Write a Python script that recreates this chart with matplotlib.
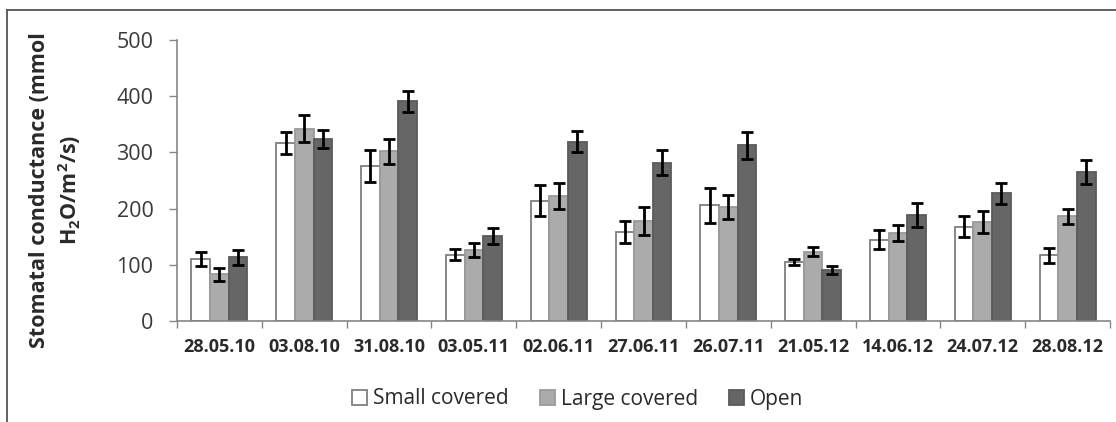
import matplotlib.pyplot as plt
import numpy as np
from matplotlib.lines import Line2D
from matplotlib import font_manager

# sampling dates
dates = ['28.05.10', '03.08.10', '31.08.10', '03.05.11', '02.06.11', '27.06.11',
         '26.07.11', '21.05.12', '14.06.12', '24.07.12', '28.08.12']

# mean stomatal conductance per treatment
small_covered = [110, 317, 276, 118, 214, 158, 206, 105, 145, 168, 117]
large_covered = [83, 342, 302, 126, 222, 178, 203, 123, 156, 176, 186]
open_plot = [113, 323, 391, 151, 319, 282, 313, 91, 189, 227, 265]

# error bar half-widths
small_err = [12, 20, 29, 10, 28, 20, 31, 5, 17, 18, 13]
large_err = [12, 24, 22, 12, 23, 25, 22, 8, 14, 20, 14]
open_err = [13, 16, 19, 14, 19, 23, 24, 7, 21, 18, 22]

series_names = ['Small covered', 'Large covered', 'Open']

# pick a family that really ships a bold face
bold_family = 'DejaVu Sans'
for fam in ['Open Sans', 'Lato', 'Noto Sans', 'Roboto', 'Liberation Sans']:
    path = font_manager.findfont(font_manager.FontProperties(family=fam, weight='bold'),
                                 fallback_to_default=False)
    if 'bold' in path.lower():
        bold_family = fam
        break

plt.rcParams['font.family'] = ['Open Sans', 'DejaVu Sans']
plt.rcParams['mathtext.fontset'] = 'custom'
plt.rcParams['mathtext.rm'] = bold_family + ':bold'
plt.rcParams['mathtext.it'] = bold_family + ':bold'
plt.rcParams['mathtext.bf'] = bold_family + ':bold'

fig = plt.figure(figsize=(11.16, 4.22), dpi=100)
ax = fig.add_axes([177 / 1116, 1 - 321 / 422, (1110 - 177) / 1116, (321 - 40) / 422])

x = np.arange(len(dates))
width = 0.22
axis_grey = '#868686'

styles = [
    (small_covered, small_err, 'white', '#7f7f7f'),
    (large_covered, large_err, '#ababab', '#9a9a9a'),
    (open_plot, open_err, '#666666', '#5a5a5a'),
]
for i, (vals, errs, face, edge) in enumerate(styles):
    pos = x + (i - 1) * width
    ax.bar(pos, vals, width, color=face, edgecolor=edge, linewidth=1.3,
           label=series_names[i], zorder=2)
    ax.errorbar(pos, vals, yerr=errs, fmt='none', ecolor='black',
                elinewidth=2, capsize=4.5, capthick=2, zorder=3)

ax.set_xlim(-0.5, len(dates) - 0.5)
ax.set_ylim(0, 500)
ax.set_yticks(range(0, 501, 100))
ax.tick_params(axis='y', direction='out', length=6, color=axis_grey, width=1,
               labelsize=15.5, labelcolor='#3a3a3a', pad=11)

# category labels centred, ticks on the boundaries
ax.set_xticks(x)
ax.set_xticklabels(dates, fontsize=13, fontweight='bold', color='#2a2a2a',
                   family=bold_family)
ax.tick_params(axis='x', which='major', length=0, pad=12)
ax.set_xticks(np.arange(-0.5, len(dates), 1.0), minor=True)
ax.tick_params(axis='x', which='minor', direction='out', length=5, color=axis_grey, width=1)

for side in ['top', 'right']:
    ax.spines[side].set_visible(False)
for side in ['left', 'bottom']:
    ax.spines[side].set_color(axis_grey)
    ax.spines[side].set_linewidth(1.2)

fig.text(56 / 1116, 1 - 190 / 422, 'Stomatal conductance (mmol\nH$_2$O/m$^2$/s)',
         rotation=90, ha='center', va='center', multialignment='center',
         fontsize=15.5, fontweight='bold', color='#2a2a2a', linespacing=1.25,
         family=bold_family)

leg = ax.legend(loc='center', bbox_to_anchor=(578 / 1116, 1 - 399 / 422),
                bbox_transform=fig.transFigure, ncol=3, frameon=False,
                fontsize=15, handlelength=0.7, handleheight=0.7,
                handletextpad=0.3, columnspacing=1.5)
for t in leg.get_texts():
    t.set_color('#2a2a2a')

# outer frame of the picture (only left and top edges visible)
frame_col = '#555555'
fig.add_artist(Line2D([7 / 1116, 1], [1 - 10 / 422, 1 - 10 / 422],
                      transform=fig.transFigure, color=frame_col, lw=1.3))
fig.add_artist(Line2D([7 / 1116, 7 / 1116], [0, 1 - 10 / 422],
                      transform=fig.transFigure, color=frame_col, lw=1.3))

fig.savefig('out.png', dpi=100)
